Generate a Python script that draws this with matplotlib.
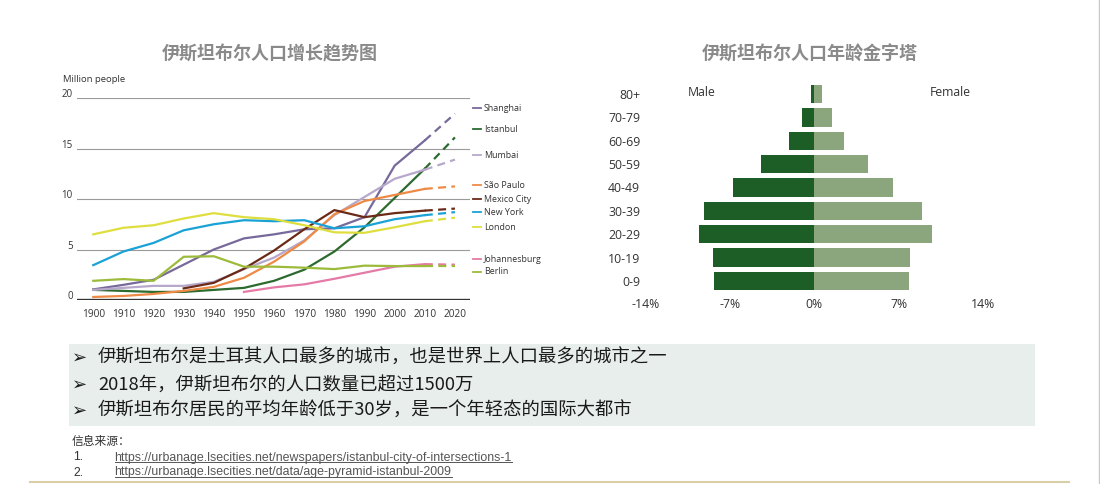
import matplotlib
matplotlib.use("Agg")
import matplotlib.pyplot as plt
from matplotlib.patches import Rectangle
from matplotlib.lines import Line2D

# ---------------- data ----------------
years = [1900, 1910, 1920, 1930, 1940, 1950, 1960, 1970, 1980, 1990, 2000, 2010, 2020]
cities = ["Shanghai", "Istanbul", "Mumbai", "São Paulo", "Mexico City",
          "New York", "London", "Johannesburg", "Berlin"]
shanghai = [1.05, 1.5, 2.0, 3.5, 5.0, 6.1, 6.5, 7.0, 7.1, 8.2, 13.3, 15.8, 18.45]
istanbul = [1.0, 0.9, 0.8, 0.8, 1.0, 1.2, 1.9, 3.0, 4.8, 7.2, 10.1, 13.0, 16.1]
mumbai = [1.0, 1.2, 1.4, 1.4, 1.8, 3.05, 4.2, 5.9, 8.4, 10.2, 12.0, 12.9, 13.9]
sao_paulo = [0.3, 0.4, 0.6, 0.9, 1.3, 2.2, 3.8, 5.8, 8.5, 9.8, 10.4, 11.0, 11.25]
mexico_city = [None, None, None, 1.15, 1.7, 3.1, 4.9, 7.0, 8.9, 8.2, 8.6, 8.85, 9.05]
new_york = [3.45, 4.8, 5.65, 6.9, 7.5, 7.9, 7.8, 7.9, 7.1, 7.3, 8.0, 8.4, 8.7]
london = [6.5, 7.15, 7.4, 8.07, 8.6, 8.2, 8.0, 7.4, 6.7, 6.65, 7.2, 7.8, 8.15]
johannesburg = [None, None, None, None, None, 0.8, 1.25, 1.55, 2.1, 2.7, 3.3, 3.55, 3.5]
berlin = [1.9, 2.07, 1.9, 4.28, 4.33, 3.3, 3.3, 3.2, 3.06, 3.4, 3.36, 3.36, 3.36]
series = [shanghai, istanbul, mumbai, sao_paulo, mexico_city, new_york, london, johannesburg, berlin]
y_ticks = [0, 5, 10, 15, 20]

age_groups = ["0-9", "10-19", "20-29", "30-39", "40-49", "50-59", "60-69", "70-79", "80+"]
male_pct = [8.3, 8.4, 9.6, 9.2, 6.75, 4.4, 2.1, 1.0, 0.25]
female_pct = [7.85, 7.9, 9.8, 8.9, 6.55, 4.45, 2.5, 1.45, 0.65]
pct_ticks = [-14, -7, 0, 7, 14]

bullets = ["伊斯坦布尔是土耳其人口最多的城市，也是世界上人口最多的城市之一",
           "2018年，伊斯坦布尔的人口数量已超过1500万",
           "伊斯坦布尔居民的平均年龄低于30岁，是一个年轻态的国际大都市"]
sources = ["https://urbanage.lsecities.net/newspapers/istanbul-city-of-intersections-1",
           "https://urbanage.lsecities.net/data/age-pyramid-istanbul-2009"]

# ---------------- style ----------------
city_colors = ["#77699a", "#2c6a2e", "#b7a8cb", "#ee8a45", "#6b2a17",
               "#1aa2d6", "#dede3e", "#e67aa6", "#9cbb3a"]
legend_y = [19.0, 16.9, 14.35, 11.35, 10.0, 8.7, 7.2, 4.05, 2.8]
male_color = "#1c5e26"
female_color = "#8ba57c"
LAT = "Open Sans"
CJK = ["Noto Sans CJK SC", "DejaVu Sans"]

W, H = 1100, 484
fig = plt.figure(figsize=(W / 100, H / 100), dpi=100)
fig.patch.set_facecolor("white")


def rect(x0, y0, x1, y1):
    return [x0 / W, 1 - y1 / H, (x1 - x0) / W, (y1 - y0) / H]


def fx(x):
    return x / W


def fy(y):
    return 1 - y / H


# ---------------- left: line chart ----------------
ax = fig.add_axes(rect(77, 98, 470, 300))
ax.set_xlim(1894.6, 2025.0)
ax.set_ylim(0, 20)
for s in ax.spines.values():
    s.set_visible(False)
for v in y_ticks[1:]:
    ax.axhline(v, color="#9a9a9a", lw=0.8, zorder=1)
ax.axhline(0, color="#333333", lw=2.4, zorder=5)
ax.set_yticks([])
ax.set_xticks(years)
ax.set_xticklabels([str(y) for y in years], fontsize=7.3, family=LAT, color="#333333")
ax.tick_params(axis="x", length=0, pad=6.5)
for v in y_ticks:
    ax.annotate(str(v), xy=(0, v), xycoords=("axes fraction", "data"),
                xytext=(-3.0, 2.5), textcoords="offset points",
                ha="right", va="center", fontsize=7, family=LAT, color="#333333")

for vals, col in zip(series, city_colors):
    sx = [y for y, v in zip(years[:-1], vals[:-1]) if v is not None]
    sy = [v for v in vals[:-1] if v is not None]
    ax.plot(sx, sy, color=col, lw=1.6, zorder=3, solid_joinstyle="miter")
    ax.plot(years[-2:], vals[-2:], color=col, lw=1.6, zorder=3,
            dashes=(3.6, 2.4))

for name, col, ly in zip(cities, city_colors, legend_y):
    ax.add_line(Line2D([2026.0, 2028.6], [ly, ly], color=col, lw=1.3, clip_on=False))
    ax.text(2029.6, ly, name, fontsize=6.4, family=LAT, color="#333333",
            va="center", ha="left", clip_on=False)

fig.text(fx(63), fy(80), "Million people", fontsize=6.8, family=LAT,
         color="#333333", va="center", ha="left")
fig.text(fx(269.5), fy(54), "伊斯坦布尔人口增长趋势图", fontsize=13, family=CJK,
         weight="bold", color="#8a8a8a", ha="center", va="center")

# ---------------- right: population pyramid ----------------
ax2 = fig.add_axes(rect(645.7, 82.3, 983.0, 292.7))
ax2.set_xlim(-14, 14)
ax2.set_ylim(-0.5, len(age_groups) - 0.5)
ypos = list(range(len(age_groups)))
ax2.barh(ypos, [-m for m in male_pct], height=0.79, color=male_color, zorder=2)
ax2.barh(ypos, female_pct, height=0.79, color=female_color, zorder=2)
for s in ax2.spines.values():
    s.set_visible(False)
ax2.set_yticks(ypos)
ax2.set_yticklabels(age_groups, fontsize=8.8, family=LAT, color="#333333")
ax2.set_xticks(pct_ticks)
ax2.set_xticklabels([f"{t}%" for t in pct_ticks], fontsize=8.8, family=LAT, color="#333333")
ax2.tick_params(axis="y", length=0, pad=4)
ax2.tick_params(axis="x", length=0, pad=4)
fig.text(fx(701.5), fy(93), "Male", fontsize=8.8, family=LAT, color="#333333",
         ha="center", va="center")
fig.text(fx(950), fy(93), "Female", fontsize=8.8, family=LAT, color="#333333",
         ha="center", va="center")
fig.text(fx(809.5), fy(54), "伊斯坦布尔人口年龄金字塔", fontsize=13, family=CJK,
         weight="bold", color="#8a8a8a", ha="center", va="center")

# ---------------- text box ----------------
r = rect(69, 344, 1035, 426)
fig.add_artist(Rectangle((r[0], r[1]), r[2], r[3], transform=fig.transFigure,
                         facecolor="#e8eeec", edgecolor="none", zorder=0))
for i, (line, yy) in enumerate(zip(bullets, [358, 385, 411])):
    fig.text(fx(72), fy(yy), "➢", fontsize=13, family=["DejaVu Sans"],
             color="#1a1a1a", ha="left", va="center")
    fig.text(fx(98), fy(yy), line, fontsize=13.2, family=CJK, color="#1a1a1a",
             ha="left", va="center")

fig.text(fx(72), fy(441), "信息来源：", fontsize=8.5, family=CJK, color="#333333",
         ha="left", va="center")
url_texts = []
for i, (u, yy) in enumerate(zip(sources, [457.5, 472.5])):
    fig.text(fx(73), fy(yy), f"{i + 1}.", fontsize=8.8, family="Liberation Sans",
             color="#333333", ha="left", va="center")
    t = fig.text(fx(114.5), fy(yy), u, fontsize=8.9, family="Liberation Sans",
                 color="#555555", ha="left", va="center")
    url_texts.append(t)

fig.canvas.draw()
renderer = fig.canvas.get_renderer()
for t in url_texts:
    bb = t.get_window_extent(renderer)
    x0, x1 = bb.x0 / W, bb.x1 / W
    yb = (bb.y0 + 1.5) / H
    fig.add_artist(Line2D([x0, x1], [yb, yb], transform=fig.transFigure,
                          color="#555555", lw=0.7))

# decorative frame lines
fig.add_artist(Line2D([fx(30), fx(1069)], [fy(482), fy(482)], transform=fig.transFigure,
                      color="#d8cfa6", lw=1.5))
fig.add_artist(Line2D([fx(1099), fx(1099)], [0, 1], transform=fig.transFigure,
                      color="#c8c8c8", lw=1.0))

fig.savefig("out.png", dpi=100, facecolor="white")
